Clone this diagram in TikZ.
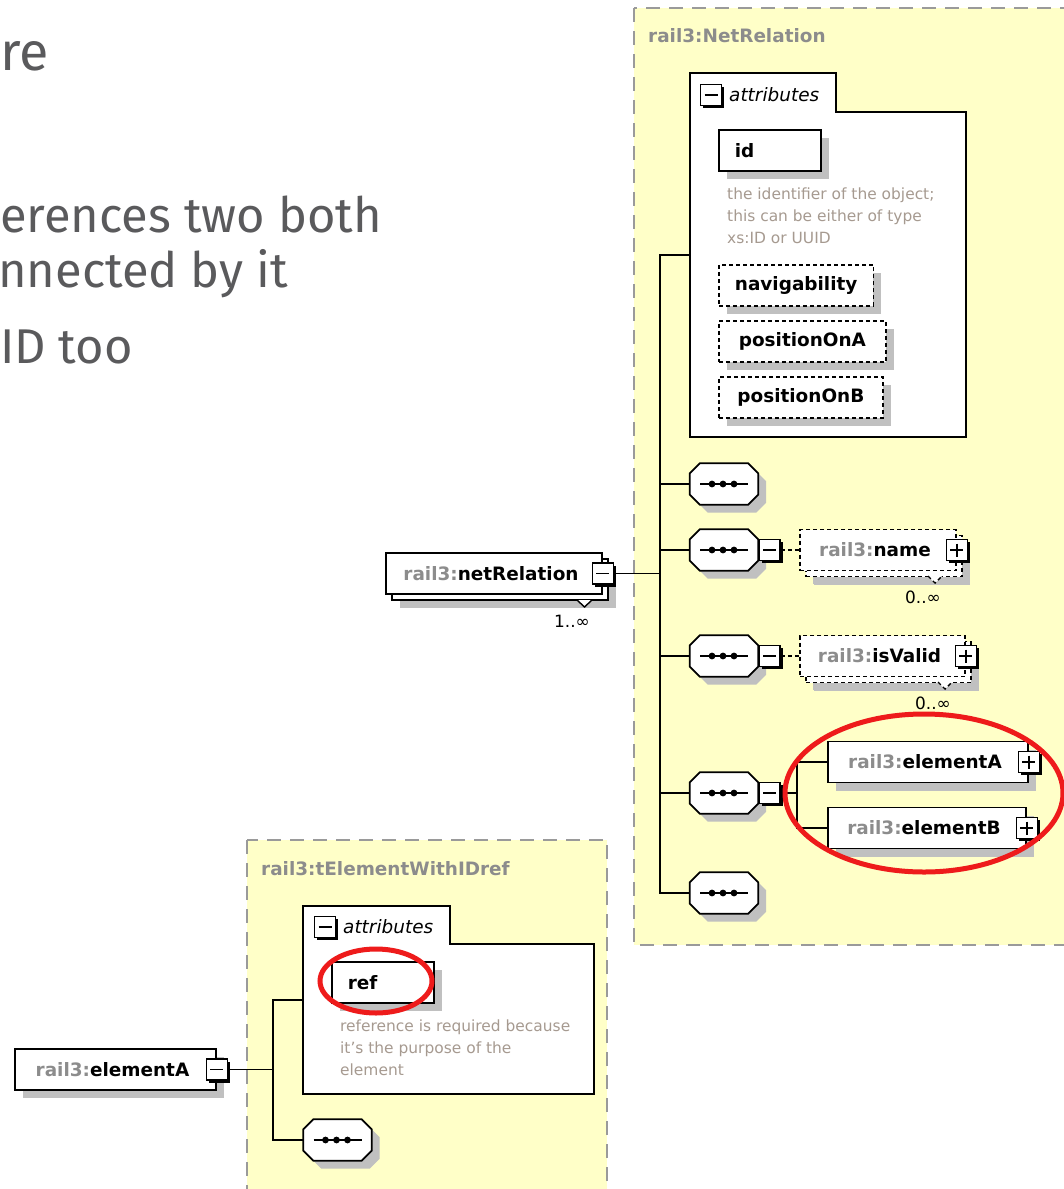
\documentclass[tikz,border=0pt]{standalone}
\usepackage{fontspec}
\setmainfont{DejaVu Sans}
\newfontfamily\slidefont{Fira Sans}
\usetikzlibrary{shadows}

\definecolor{xsdyellow}{HTML}{FFFFC8}
\definecolor{xsdframe}{HTML}{9A9A9A}
\definecolor{xsdhead}{HTML}{8C8C8C}
\definecolor{xsdshadow}{HTML}{C0C0C0}
\definecolor{xsddoc}{HTML}{A69A90}
\definecolor{slidegray}{HTML}{5A5A5C}
\definecolor{markred}{HTML}{EE1B1B}

\newcommand{\railname}[1]{\textcolor{xsdhead}{rail3:}#1\hspace*{6bp}}

\begin{document}
\begin{tikzpicture}[x=1bp,y=-1bp,
    typebox/.style={draw=xsdframe,line width=2bp,dash pattern=on 14bp off 9bp,fill=xsdyellow},
    typehead/.style={anchor=base west,inner sep=0pt,text=xsdhead,font=\bfseries\fontsize{18.5}{22}\selectfont},
    boxshadow/.style={general shadow={fill=xsdshadow,shadow xshift=#1,shadow yshift=-#1}},
    boxshadow/.default=8bp,
    boxbase/.style={draw,line width=1.8bp,fill=white,inner sep=0pt,minimum height=41bp,
      font=\bfseries\fontsize{18.5}{22}\selectfont},
    elem/.style={boxbase,boxshadow},
    optional/.style={dash pattern=on 4bp off 3bp},
    attr/.style={boxbase,boxshadow,anchor=north west,inner xsep=16bp},
    attrgroup/.style={draw,line width=1.8bp,fill=white},
    attrlabel/.style={anchor=base west,inner sep=0pt,font=\itshape\fontsize{18.5}{22}\selectfont},
    seq/.style={minimum width=68bp,minimum height=41bp,inner sep=0pt},
    seqframe/.style={draw,line width=1.8bp,fill=white,boxshadow},
    seqline/.style={line width=1.8bp},
    pmbox/.style={draw,line width=1.6bp,fill=white,minimum size=21bp,inner sep=0pt,
      general shadow={fill=black,shadow xshift=2.5bp,shadow yshift=-2.5bp}},
    minusbox/.style={pmbox,path picture={
        \draw[black,line width=1.6bp] ([xshift=4bp]path picture bounding box.west)
          -- ([xshift=-4bp]path picture bounding box.east);}},
    plusbox/.style={pmbox,path picture={
        \draw[black,line width=1.6bp] ([xshift=4bp]path picture bounding box.west)
          -- ([xshift=-4bp]path picture bounding box.east)
          ([yshift=-4bp]path picture bounding box.north)
          -- ([yshift=4bp]path picture bounding box.south);}},
    wire/.style={line width=1.8bp},
    docnote/.style={anchor=north west,inner sep=0pt,align=left,text=xsddoc,
      font=\fontsize{15.5}{22}\selectfont},
    multnote/.style={inner sep=0pt,font=\fontsize{17}{20}\selectfont},
    notch/.style={line width=1.4bp,fill=white},
    slidetext/.style={anchor=base west,inner sep=0pt,text=slidegray,
      font=\slidefont\fontsize{49}{60}\selectfont},
    redring/.style={draw=markred,line width=5bp}]

  \useasboundingbox (0,0) rectangle (1064,1189);
  \clip (0,0) rectangle (1064,1189);

  % slide text at the left edge
  \node[slidetext,font=\slidefont\fontsize{54}{60}\selectfont] (slideTitle) at (0,70) {re};
  \node[slidetext] (slideLineA) at (0,232) {erences two both};
  \node[slidetext] (slideLineB) at (-2,287) {nnected by it};
  \node[slidetext] (slideLineC) at (0,363) {ID too};

  % the two complex types
  \draw[typebox] (634,8) rectangle (1090,945);
  \node[typehead] (nrHead) at (648,42) {rail3:NetRelation};
  \draw[typebox] (247,840) rectangle (607,1210);
  \node[typehead] (teHead) at (261,875) {rail3:tElementWithIDref};

  % attributes of rail3:NetRelation
  \draw[attrgroup] (690,73) -- (836,73) -- (836,112) -- (966,112) -- (966,437) -- (690,437) -- cycle;
  \coordinate (nrAttrs) at (690,255);
  \node[minusbox] (nrAttrsToggle) at (711,95) {};
  \node[attrlabel] (nrAttrsLabel) at (729,101) {attributes};
  \node[attr,text width=70bp] (nrId) at (718,129) {id};
  \node[docnote] (nrIdDoc) at (727,188) {the identifier of the object;\\this can be either of type\\xs:ID or UUID};
  \node[attr,optional,minimum width=152bp] (nrNav) at (718,264) {navigability};
  \node[attr,optional,minimum width=167bp] (nrPosA) at (718,320) {positionOnA};
  \node[attr,optional,minimum width=164bp] (nrPosB) at (718,376) {positionOnB};

  % attributes of rail3:tElementWithIDref
  \draw[attrgroup] (303,906) -- (450,906) -- (450,944) -- (594,944) -- (594,1094) -- (303,1094) -- cycle;
  \coordinate (teAttrs) at (303,1000);
  \node[minusbox] (teAttrsToggle) at (325,927) {};
  \node[attrlabel] (teAttrsLabel) at (343,933) {attributes};
  \node[attr,text width=70bp] (teRef) at (331,961) {ref};
  \node[docnote] (teRefDoc) at (340,1020) {reference is required because\\it's the purpose of the\\element};

  % sequence compositors
  \node[seq] (nrSeqA) at (724,484) {};
  \node[seq] (nrSeqB) at (724,550) {};
  \node[seq] (nrSeqC) at (724,656) {};
  \node[seq] (nrSeqD) at (724,793) {};
  \node[seq] (nrSeqE) at (724,893) {};
  \node[seq] (teSeq) at (337.5,1140) {};
  \foreach \s in {nrSeqA,nrSeqB,nrSeqC,nrSeqD,nrSeqE,teSeq}{
    \draw[seqframe] ([xshift=10bp]\s.north west) -- ([xshift=-10bp]\s.north east)
      -- ([yshift=-10bp]\s.north east) -- ([yshift=10bp]\s.south east)
      -- ([xshift=-10bp]\s.south east) -- ([xshift=10bp]\s.south west)
      -- ([yshift=10bp]\s.south west) -- ([yshift=-10bp]\s.north west) -- cycle;
    \draw[seqline] ([xshift=-24bp]\s.center) -- ([xshift=24bp]\s.center);
    \foreach \dx in {-12,-1,10}
      \fill ([xshift=\dx bp]\s.center) circle (3.4bp);
  }
  \node[minusbox,anchor=west] (nrSeqBToggle) at (nrSeqB.east) {};
  \node[minusbox,anchor=west] (nrSeqCToggle) at (nrSeqC.east) {};
  \node[minusbox,anchor=west] (nrSeqDToggle) at (nrSeqD.east) {};

  % child elements
  \node[elem,optional,minimum width=156bp,boxshadow=7bp] (nrNameBack) at (884,556) {};
  \draw[notch,optional] (928,576) -- (935,583) -- (942,576);
  \node[boxbase,optional,minimum width=156bp] (nrName) at (878,550) {\railname{name}};
  \node[plusbox] (nrNameToggle) at (nrName.east) {};
  \node[multnote] (nrNameMult) at (923,597) {0..∞};

  \node[elem,optional,minimum width=165bp,boxshadow=7bp] (nrValidBack) at (888.5,662) {};
  \draw[notch,optional] (938,682) -- (945,689) -- (952,682);
  \node[boxbase,optional,minimum width=165bp] (nrValid) at (882.5,656) {\railname{isValid}};
  \node[plusbox] (nrValidToggle) at (nrValid.east) {};
  \node[multnote] (nrValidMult) at (933,703) {0..∞};

  \node[elem,minimum width=200bp] (nrElemA) at (928,762) {\railname{elementA}};
  \node[plusbox] (nrElemAToggle) at (nrElemA.east) {};
  \node[elem,minimum width=198bp] (nrElemB) at (927,828) {\railname{elementB}};
  \node[plusbox] (nrElemBToggle) at (nrElemB.east) {};

  \coordinate (nrTrunk) at (660,573);
  \coordinate (nrChoice) at (797,793);
  \draw[wire] (nrAttrs) -| (nrTrunk) |- (nrSeqE.west);
  \foreach \s in {nrSeqA,nrSeqB,nrSeqC,nrSeqD}
    \draw[wire] (\s.west) -- (\s.west -| nrTrunk);
  \draw[wire,optional] (nrSeqBToggle.east) -- (nrName.west);
  \draw[wire,optional] (nrSeqCToggle.east) -- (nrValid.west);
  \draw[wire] (nrSeqDToggle.east) -- (nrChoice);
  \draw[wire] (nrElemA.west) -| (nrChoice) |- (nrElemB.west);

  \coordinate (teTrunk) at (273,1070);
  \draw[wire] (teAttrs) -| (teTrunk) |- (teSeq.west);

  % rail3:netRelation
  \node[elem,minimum width=216bp] (netRelBack) at (500,579.5) {};
  \draw[notch] (577,600) -- (584.5,607) -- (592,600);
  \node[boxbase,minimum width=216bp] (netRel) at (494,573.5) {\railname{netRelation}};
  \node[minusbox] (netRelToggle) at (netRel.east) {};
  \node[multnote] (netRelMult) at (572,621) {1..∞};
  \draw[wire] (netRelToggle.east) -- (netRelToggle.east -| nrTrunk);

  % rail3:elementA
  \node[elem,minimum width=201bp] (elemA) at (115.5,1069.5) {\railname{elementA}};
  \node[minusbox] (elemAToggle) at (elemA.east) {};
  \draw[wire] (elemAToggle.east) -- (elemAToggle.east -| teTrunk);

  % red marks
  \draw[redring] (924,793) ellipse (139 and 79);
  \draw[redring] (376,981) ellipse (56 and 32);
\end{tikzpicture}
\end{document}
